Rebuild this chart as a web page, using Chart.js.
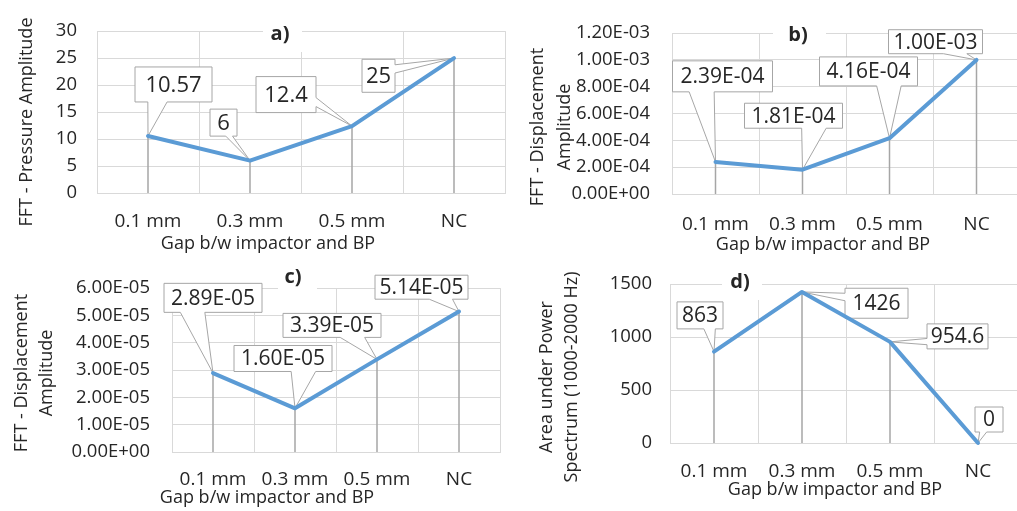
<!DOCTYPE html>
<html>
<head>
<meta charset="utf-8">
<title>Gap b/w impactor and BP</title>
<script src="https://cdn.jsdelivr.net/npm/chart.js@4.4.1/dist/chart.umd.min.js"></script>
<style>
  html, body { margin: 0; padding: 0; background: #fff; width: 1017px; height: 511px; overflow: hidden; }
  .panel { position: absolute; }
  canvas { display: block; }
</style>
</head>
<body>
<div class="panel" style="left:0;top:0"><canvas id="chartA" width="508" height="255"></canvas></div>
<div class="panel" style="left:508px;top:0"><canvas id="chartB" width="520" height="255"></canvas></div>
<div class="panel" style="left:0;top:255px"><canvas id="chartC" width="508" height="256"></canvas></div>
<div class="panel" style="left:508px;top:255px"><canvas id="chartD" width="520" height="256"></canvas></div>
<script>
// categories and series
const gapLabels = ['0.1 mm', '0.3 mm', '0.5 mm', 'NC'];
const pressureAmp = [10.57, 6, 12.4, 25];
const dispAmpB = [2.39e-4, 1.81e-4, 4.16e-4, 1.00e-3];
const dispAmpC = [2.89e-5, 1.60e-5, 3.39e-5, 5.14e-5];
const powerArea = [863, 1426, 954.6, 0];

// y tick values
const pressureTicks = [0, 5, 10, 15, 20, 25, 30];
const dispTicksB = [0, 2e-4, 4e-4, 6e-4, 8e-4, 1.0e-3, 1.2e-3];
const dispTicksC = [0, 1e-5, 2e-5, 3e-5, 4e-5, 5e-5, 6e-5];
const powerTicks = [0, 500, 1000, 1500];

const LINE_BLUE = '#5b9bd5';
const GRID = '#d9d9d9';
const DROP = '#a6a6a6';
const BOX_EDGE = '#a6a6a6';
const TEXT = '#262626';
const FONT = "'Open Sans', 'DejaVu Sans', sans-serif";

Chart.defaults.font.family = FONT;
Chart.defaults.color = TEXT;

// 2.39E-04 style
function sciLabel(v) {
  const parts = Number(v).toExponential(2).split('e');
  const e = parseInt(parts[1], 10);
  return parts[0] + 'E' + (e < 0 ? '-' : '+') + String(Math.abs(e)).padStart(2, '0');
}
const plainLabel = v => String(v);

// rectangle callout with a wedge pointing at (tx, ty)
function calloutPath(ctx, x1, y1, x2, y2, tx, ty) {
  const w = x2 - x1, h = y2 - y1;
  const dxPos = tx - (x1 + x2) / 2, dyPos = ty - (y1 + y2) / 2;
  const vertical = Math.abs(dyPos) > Math.abs(dxPos * h / w);
  const bx1 = x1 + w * (dxPos > 0 ? 7 : 2) / 12, bx2 = x1 + w * (dxPos > 0 ? 10 : 5) / 12;
  const by1 = y1 + h * (dyPos > 0 ? 7 : 2) / 12, by2 = y1 + h * (dyPos > 0 ? 10 : 5) / 12;
  ctx.beginPath();
  ctx.moveTo(x1, y1);
  if (vertical && dyPos < 0) { ctx.lineTo(bx1, y1); ctx.lineTo(tx, ty); ctx.lineTo(bx2, y1); }
  ctx.lineTo(x2, y1);
  if (!vertical && dxPos > 0) { ctx.lineTo(x2, by1); ctx.lineTo(tx, ty); ctx.lineTo(x2, by2); }
  ctx.lineTo(x2, y2);
  if (vertical && dyPos > 0) { ctx.lineTo(bx2, y2); ctx.lineTo(tx, ty); ctx.lineTo(bx1, y2); }
  ctx.lineTo(x1, y2);
  if (!vertical && dxPos < 0) { ctx.lineTo(x1, by2); ctx.lineTo(tx, ty); ctx.lineTo(x1, by1); }
  ctx.closePath();
}

// drop lines, panel tag, value callouts and axis titles
function decorPlugin(p) {
  return {
    id: 'panelDecor',
    beforeDatasetsDraw(chart) {
      const ctx = chart.ctx, area = chart.chartArea;
      const pts = chart.getDatasetMeta(0).data;
      const values = chart.data.datasets[0].data;
      ctx.save();
      ctx.strokeStyle = DROP;
      ctx.lineWidth = 1.5;
      pts.forEach(pt => {
        ctx.beginPath();
        ctx.moveTo(pt.x, pt.y);
        ctx.lineTo(pt.x, area.bottom);
        ctx.stroke();
      });

      // panel letter on a white patch
      const t = p.tag;
      ctx.fillStyle = '#fff';
      ctx.fillRect(t.box[0], t.box[1], t.box[2] - t.box[0], t.box[3] - t.box[1]);
      ctx.fillStyle = TEXT;
      ctx.font = 'bold 20px ' + FONT;
      ctx.textAlign = 'center';
      ctx.textBaseline = 'middle';
      ctx.fillText(t.text, t.x, t.y);

      // value callouts
      ctx.font = p.labelSize + 'px ' + FONT;
      ctx.lineWidth = 1;
      pts.forEach((pt, i) => {
        const [dx, dy, w, h] = p.callouts[i];
        const cx = pt.x + dx, cy = pt.y + dy;
        calloutPath(ctx, cx - w / 2, cy - h / 2, cx + w / 2, cy + h / 2, pt.x, pt.y);
        ctx.fillStyle = '#fff';
        ctx.fill();
        ctx.strokeStyle = BOX_EDGE;
        ctx.stroke();
        ctx.fillStyle = TEXT;
        ctx.fillText(p.fmt(values[i]), cx, cy + 1);
      });
      ctx.restore();
    },
    afterDraw(chart) {
      const ctx = chart.ctx;
      ctx.save();
      ctx.fillStyle = TEXT;
      ctx.font = '18px ' + FONT;
      ctx.textAlign = 'center';
      ctx.textBaseline = 'middle';
      ctx.fillText('Gap b/w impactor and BP', p.xTitle[0], p.xTitle[1]);
      p.yTitle.lines.forEach((line, i) => {
        ctx.save();
        ctx.translate(p.yTitle.xs[i], p.yTitle.y);
        ctx.rotate(-Math.PI / 2);
        ctx.fillText(line, 0, 0);
        ctx.restore();
      });
      ctx.restore();
    }
  };
}

function makePanel(id, p) {
  const canvas = document.getElementById(id);
  const W = canvas.width, H = canvas.height;
  const [left, top, right, bottom] = p.area;
  return new Chart(canvas.getContext('2d'), {
    type: 'line',
    data: {
      labels: gapLabels,
      datasets: [{
        data: p.values,
        borderColor: LINE_BLUE,
        borderWidth: 4,
        borderCapStyle: 'round',
        borderJoinStyle: 'round',
        pointRadius: 0,
        tension: 0,
        clip: false
      }]
    },
    options: {
      responsive: false,
      animation: false,
      layout: { padding: { left: 0, top: top, right: W - right, bottom: 0 } },
      plugins: { legend: { display: false }, tooltip: { enabled: false } },
      scales: {
        x: {
          offset: true,
          grid: { offset: true, color: GRID, lineWidth: 1, drawTicks: false },
          border: { color: GRID },
          ticks: { padding: p.xPad, font: { size: 19 }, color: TEXT, maxRotation: 0, autoSkip: false },
          afterFit: s => { s.height = H - bottom; }
        },
        y: {
          min: p.ticks[0],
          max: p.ticks[p.ticks.length - 1],
          grid: { color: GRID, lineWidth: 1, drawTicks: false },
          border: { display: false },
          ticks: { padding: p.yPad, font: { size: 18.5 }, color: TEXT, callback: v => p.tickFmt(v) },
          afterBuildTicks: s => { s.ticks = p.ticks.map(v => ({ value: v })); },
          afterFit: s => { s.width = left; }
        }
      }
    },
    plugins: [decorPlugin(p)]
  });
}

makePanel('chartA', {
  values: pressureAmp, ticks: pressureTicks, tickFmt: plainLabel, fmt: plainLabel,
  area: [97, 20, 505, 193], xPad: 17, yPad: 20, labelSize: 22,
  tag: { text: 'a)', x: 280, y: 34, box: [263, 17, 302, 52] },
  callouts: [[25.5, -51.5, 77, 35], [-26.5, -38, 27, 27], [-66, -31.5, 60, 36], [-75.5, 17.7, 33, 33]],
  xTitle: [268, 244],
  yTitle: { lines: ['FFT - Pressure Amplitude'], xs: [27], y: 122 }
});

makePanel('chartB', {
  values: dispAmpB, ticks: dispTicksB, tickFmt: sciLabel, fmt: sciLabel,
  area: [164, 19, 512, 194], xPad: 19, yPad: 22, labelSize: 21,
  tag: { text: 'b)', x: 290, y: 35, box: [265, 16, 318, 54] },
  callouts: [[7, -85.6, 100, 31], [-9, -54, 98, 25], [-21, -66.8, 98, 29], [-41, -18.2, 94, 24]],
  xTitle: [315, 245],
  yTitle: { lines: ['FFT - Displacement', 'Amplitude'], xs: [30, 57], y: 127 }
});

makePanel('chartC', {
  values: dispAmpC, ticks: dispTicksC, tickFmt: sciLabel, fmt: sciLabel,
  area: [172, 20, 500, 197], xPad: 16, yPad: 22, labelSize: 21,
  tag: { text: 'c)', x: 293, y: 22, box: [278, 7, 317, 37] },
  callouts: [[0, -75.2, 98, 29], [-12, -49.8, 98, 26], [-45, -34, 98, 24], [-37.5, -24.4, 93, 24]],
  xTitle: [267, 243],
  yTitle: { lines: ['FFT - Displacement', 'Amplitude'], xs: [22, 47], y: 118 }
});

makePanel('chartD', {
  values: powerArea, ticks: powerTicks, tickFmt: plainLabel, fmt: plainLabel,
  area: [162, 12, 514, 188], xPad: 17, yPad: 18, labelSize: 21,
  tag: { text: 'd)', x: 232, y: 27, box: [214, 7, 254, 45] },
  callouts: [[-14, -36.2, 46, 27], [74.5, 11.3, 63, 30], [67.5, -5.5, 61, 25], [11, -23.5, 28, 25]],
  xTitle: [327, 235],
  yTitle: { lines: ['Area under Power', 'Spectrum (1000-2000 Hz)'], xs: [39, 64], y: 122 }
});
</script>
</body>
</html>
